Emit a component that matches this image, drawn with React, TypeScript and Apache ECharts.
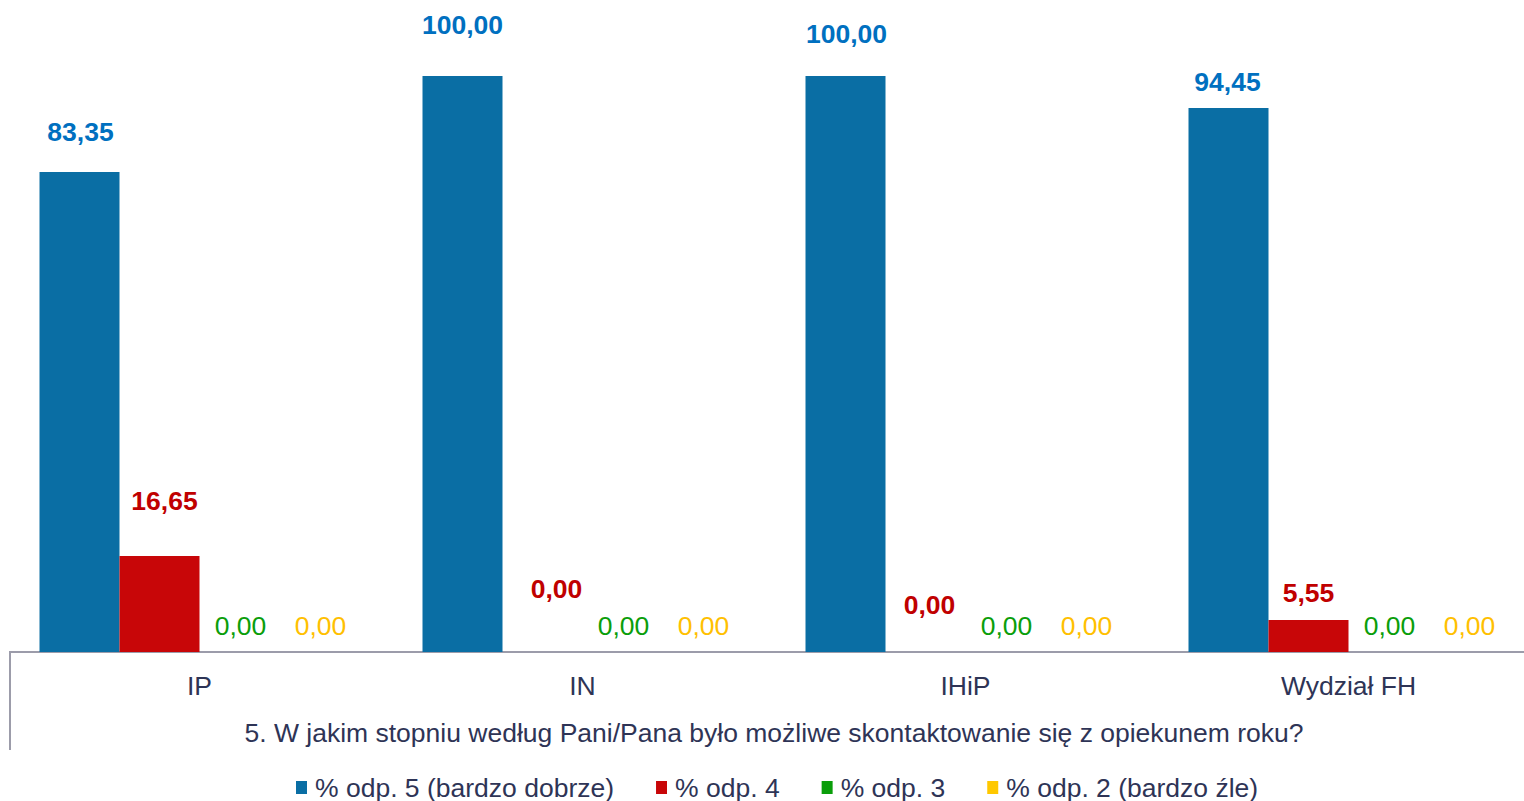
import React, { useEffect, useRef } from "react";
import * as echarts from "echarts";

const categories = ["IP", "IN", "IHiP", "Wydział FH"];
const seriesNames = ["% odp. 5 (bardzo dobrze)", "% odp. 4", "% odp. 3", "% odp. 2 (bardzo źle)"];
const odp5 = [83.35, 100.0, 100.0, 94.45];
const odp4 = [16.65, 0.0, 0.0, 5.55];
const odp3 = [0.0, 0.0, 0.0, 0.0];
const odp2 = [0.0, 0.0, 0.0, 0.0];
const axisName = "5. W jakim stopniu według Pani/Pana było możliwe skontaktowanie się z opiekunem roku?";

// label placement tweaks (layout, not data)
const labelOffsets5 = [[1, -26], [0, -38], [1, -29], [-1, -12]];
const labelOffsets4 = [[5, -42], [14, -50], [4, -34], [0, -14]];
const labelOffsets3 = [[1, -13], [1, -13], [1, -13], [1, -13]];
const labelOffsets2 = [[1, -13], [1, -13], [1, -13], [1, -13]];

const barColors = ["#0A6EA4", "#C80608", "#0A9E0A", "#FFC800"];
const labelColors = ["#0070C0", "#C00000", "#0A9E0A", "#FFC000"];
const textColor = "#2E3456";
const FONT = "'Liberation Sans', Arial, sans-serif";
const FS = 26.5;

function fmt(v: number) {
  return v.toFixed(2).replace(".", ",");
}

export default function App() {
  const ref = useRef<HTMLDivElement>(null);
  useEffect(() => {
    if (!ref.current) return;
    const chart = echarts.init(ref.current, null, { renderer: "svg" });
    const all = [odp5, odp4, odp3, odp2];
    const offs = [labelOffsets5, labelOffsets4, labelOffsets3, labelOffsets2];
    const series = all.map((vals, si) => ({
      name: seriesNames[si],
      type: "bar",
      barWidth: 80,
      barGap: "0%",
      itemStyle: { color: barColors[si] },
      data: vals.map((v, i) => ({
        value: v,
        label: { offset: offs[si][i] },
      })),
      label: {
        show: true,
        position: "top",
        distance: 0,
        fontFamily: FONT,
        fontSize: FS,
        fontWeight: si < 2 ? "bold" : "normal",
        color: labelColors[si],
        formatter: (p: any) => fmt(p.value),
      },
    }));
    chart.setOption({
      animation: false,
      grid: { left: 8, width: 1532, top: 76, height: 576, containLabel: false },
      legend: {
        top: 769,
        left: 291,
        icon: "rect",
        itemWidth: 11,
        itemHeight: 13,
        itemGap: 42,
        textStyle: { fontFamily: FONT, fontSize: FS, color: textColor, padding: [0, 0, 0, 3] },
        data: seriesNames,
      },
      xAxis: {
        type: "category",
        data: categories,
        axisLine: { show: true, lineStyle: { color: "#9C9CAA", width: 2 } },
        axisTick: { show: false },
        axisLabel: { fontFamily: FONT, fontSize: FS, color: textColor, margin: 20 },
        name: axisName,
        nameLocation: "middle",
        nameGap: 67,
        nameTextStyle: { fontFamily: FONT, fontSize: FS, color: textColor },
      },
      yAxis: {
        type: "value",
        min: 0,
        max: 100,
        show: false,
        splitLine: { show: false },
      },
      graphic: [
        {
          type: "rect",
          shape: { x: 0, y: 650, width: 10, height: 4 },
          style: { fill: "#fff" },
          z: 100,
        },
        {
          type: "line",
          shape: { x1: 10, y1: 651, x2: 10, y2: 750 },
          style: { stroke: "#9C9CAA", lineWidth: 2 },
          z: 101,
        },
      ],
      series,
    });
    return () => chart.dispose();
  }, []);
  return (
    <div
      style={{ position: "fixed", left: 0, top: 0, width: 1524, height: 801, overflow: "hidden", background: "#fff" }}
    >
      <div ref={ref} style={{ position: "absolute", left: 0, top: 0, width: 1560, height: 801 }} />
    </div>
  );
}
